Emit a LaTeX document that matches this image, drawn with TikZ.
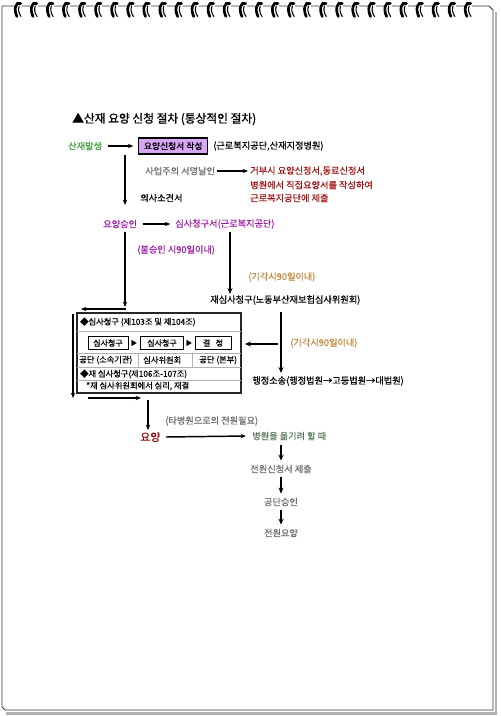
\documentclass[tikz,border=0pt]{standalone}
\usepackage{fontspec}
\newfontfamily\kr[FakeBold=0.6]{Noto Sans CJK KR}
\newfontfamily\krb[FakeBold=1.2]{Noto Sans CJK KR}
\usetikzlibrary{arrows.meta}
\definecolor{cgreen}{HTML}{3E9E3E}
\definecolor{cviolet}{HTML}{D9A6F5}
\definecolor{cred}{HTML}{A01414}
\definecolor{cpurple}{HTML}{A020A8}
\definecolor{ctan}{HTML}{C08A40}
\definecolor{cgrey}{HTML}{6E6E6E}
\definecolor{cdred}{HTML}{8C0A0A}
\definecolor{cgg}{HTML}{5A7A5A}
\tikzset{
  t/.style={inner sep=0pt, anchor=west, font=\kr\fontsize{6.9}{8}\selectfont},
  ts/.style={inner sep=0pt, anchor=west, font=\kr\fontsize{6.2}{7}\selectfont},
  arr/.style={-{Stealth[length=4pt,width=3.2pt]}, line width=0.8pt},
  tarr/.style={-{Stealth[length=4.5pt,width=3.8pt]}, line width=1.6pt},
  sbox/.style={draw=black, line width=0.7pt, inner sep=0pt, minimum height=9.5pt, font=\kr\fontsize{6}{7}\selectfont},
  rowline/.style={draw=gray!60, line width=0.5pt}
}
\begin{document}
\begin{tikzpicture}[x=0.75pt,y=-0.75pt]
\useasboundingbox (0,0) rectangle (500,716);
% page shadow and frame
\draw[gray!60, line width=1.6pt] (496,12) -- (496,713.5) -- (6,713.5);
\draw[gray!40!black, line width=0.6pt] (2,6) -- (489,6) -- (493,10) -- (493,710) -- (5,710) -- (2,707) -- cycle;
% spiral rings
\foreach \i in {0,...,28}{
  \pgfmathsetmacro\c{18+16.07*\i}
  \begin{scope}[shift={(\c,0)}]
    \fill[white] (-4,4) rectangle (4,8);
    \draw[line width=2pt, line cap=round] (2.8,3.5) .. controls (-2.5,1) and (-4.5,9.5) .. (-1,16.5);
    \draw[line width=0.8pt, line cap=round] (1.2,6) .. controls (0,9) and (0.5,13) .. (3,16.5);
  \end{scope}
}
% title
\node[t, font=\krb\fontsize{8.8}{10}\selectfont] (title) at (72,119) {▲산재 요양 신청 절차 (통상적인 절차)};
% first row
\node[t, text=cgreen] (sjbs) at (68,146) {산재발생};
\node[draw=black, line width=1pt, fill=cviolet, inner sep=0pt, minimum width=51.75pt, minimum height=12pt, anchor=west, font=\kr\fontsize{6.6}{8}\selectfont] (ysb) at (138,146) {요양신청서 작성};
\node[t] (kb) at (213,146) {(근로복지공단,산재지정병원)};
\draw[arr] ([xshift=4.5pt]sjbs.east) -- ([xshift=-3.5pt]ysb.west);
% down to 요양승인
\coordinate (v1a) at (125,155);
\coordinate (v1b) at (125,205);
\draw[arr, line width=1.1pt] (v1a) -- (v1b);
\node[t, text=cgrey] (sa) at (145,171) {사업주의 서명날인};
\node[t, text=cred] (r1) at (250,171) {거부시 요양신청서,동료신청서};
\node[t, text=cred] (r2) at (250,185) {병원에서 직접요양서를 작성하여};
\node[t, text=cred] (r3) at (250,198) {근로복지공단에 제출};
\draw[arr] ([xshift=1.5pt]sa.east) -- ([xshift=-1.5pt]r1.west);
\node[t] (us) at (140,198) {의사소견서};
% 요양승인 row
\node[t, text=cpurple] (ys) at (103,224) {요양승인};
\node[t, text=cpurple] (ss) at (175,224) {심사청구서(근로복지공단)};
\draw[arr] ([xshift=4pt]ys.east) -- ([xshift=-3.5pt]ss.west);
\coordinate (v2a) at (125,232);
\coordinate (v2b) at (125,307);
\draw[arr] (v2a) -- (v2b);
\node[t, text=cpurple] (bs) at (137,250) {(불승인 시90일이내)};
\coordinate (v3a) at (230,232);
\coordinate (v3b) at (230,294);
\draw[tarr] (v3a) -- (v3b);
\node[t, text=ctan] (gg1) at (248,277) {(기각시90일이내)};
\node[t] (jss) at (210,300) {재심사청구(노동부산재보험심사위원회)};
% left loop arrows
\coordinate (h1a) at (126,309);
\coordinate (h1b) at (81,309);
\draw[arr, line width=1.2pt] (h1a) -- (h1b);
\coordinate (lv1) at (73,314);
\coordinate (lv2) at (73,398);
\draw[arr] (lv1) -- (lv2);
\coordinate (h2a) at (88,398);
\coordinate (h2b) at (141,398);
\draw[arr, line width=1.2pt] (h2a) -- (h2b);
% box
\draw[gray!30!black, line width=1.1pt] (77,313) rectangle (241,393);
\draw[rowline] (77,331) -- (241,331);
\draw[rowline] (77,353) -- (241,353);
\draw[rowline] (77,367) -- (241,367);
\draw[rowline] (77,380) -- (241,380);
\draw[rowline] (138,353) -- (138,367);
\draw[rowline] (192,353) -- (192,367);
\node[ts] (r1t) at (80,322) {◆심사청구 (제103조 및 제104조)};
\node[sbox, minimum width=30pt] (b1) at (108,343) {심사청구};
\node[sbox, minimum width=32pt] (b2) at (162,343) {심사청구};
\node[sbox, minimum width=27pt] (b3) at (213,343) {결 \ \ 정};
\node[ts, anchor=center, font=\kr\fontsize{4.5}{5}\selectfont] (p1) at (134,343) {▶};
\node[ts, anchor=center, font=\kr\fontsize{4.5}{5}\selectfont] (p2) at (189,343) {▶};
\node[ts] (c1) at (79,360) {공단 (소속기관)};
\node[ts] (c2) at (143,360) {심사위원회};
\node[ts] (c3) at (199,360) {공단 (본부)};
\node[ts] (r4t) at (80,374) {◆재 심사청구(제106조-107조)};
\node[ts] (r5t) at (86,386) {*재 심사위원회에서 심리, 재결};
% right side
\coordinate (rv1) at (281,312);
\coordinate (rv2) at (281,373);
\draw[tarr] (rv1) -- (rv2);
\coordinate (rh1) at (278,344);
\coordinate (rh2) at (245,344);
\draw[tarr] (rh1) -- (rh2);
\node[t, text=ctan] (gg2) at (290,343) {(기각시90일이내)};
\node[t] (hs) at (252,381) {행정소송(행정법원→고등법원→대법원)};
% bottom part
\coordinate (bv1) at (148,400);
\draw[arr] (bv1) -- (148,430);
\node[t, text=cgrey] (tb) at (165,421) {(타병원으로의 전원필요)};
\node[t, text=cdred, font=\kr\fontsize{8.2}{9}\selectfont] (yy) at (140,437) {요양};
\node[t, text=cgg] (bw) at (252,436) {병원을 옮기려 할 때};
\draw[arr, line width=1.1pt] ([xshift=4pt]yy.east) -- ([xshift=-4.5pt]bw.west);
\coordinate (bw1) at (281,445);
\node[t, anchor=center, text=cgrey] (js) at (281,469) {전원신청서 제출};
\node[t, anchor=center, text=cgrey] (gs) at (281,502) {공단승인};
\node[t, anchor=center, text=cgrey] (jy) at (281,533) {전원요양};
\draw[tarr] (bw1) -- ([yshift=3pt]js.north);
\draw[tarr] ([yshift=-3pt]js.south) -- ([yshift=3pt]gs.north);
\draw[tarr] ([yshift=-3pt]gs.south) -- ([yshift=3pt]jy.north);
\end{tikzpicture}
\end{document}
